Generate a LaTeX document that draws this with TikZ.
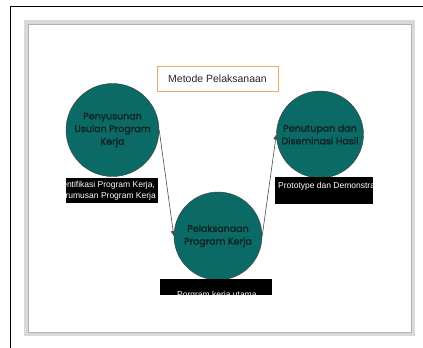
\documentclass[tikz,border=0pt]{standalone}
\usepackage{fontspec}
\setmainfont{Liberation Sans}
\newfontfamily\stagefont[FakeBold=1.6]{Poppins}
\usetikzlibrary{arrows.meta}
\definecolor{stageteal}{HTML}{0B6A65}
\definecolor{stagetext}{HTML}{102221}
\definecolor{titleorange}{HTML}{EDA86B}

\tikzset{
  stage/.style={circle, draw=black!75, fill=stageteal, text=stagetext, align=center,
    inner sep=0pt, font=\stagefont\fontsize{9.5}{12.7}\selectfont},
  tagbox/.style={fill=black, inner sep=0pt},
  tagtext/.style={text=white, align=left, inner sep=0pt, font=\fontsize{8.5}{11.5}\selectfont},
  flow/.style={draw=black!70, line width=0.6pt, -{Triangle[length=5pt,width=4.5pt]}}
}

\begin{document}
\begin{tikzpicture}[x=1pt, y=-1pt]
        \useasboundingbox (0,0) rectangle (423,348);
        % page frame and panel
        \draw[line width=0.8pt] (10,348) -- (10,6) -- (423,6);
        \draw[gray!30, line width=4pt, fill=white] (26,22) rectangle (413,334);
        \draw[gray!60, line width=0.6pt] (28,24) rectangle (411,332);

        \node[draw=titleorange, line width=0.9pt, fill=white, minimum width=121pt, minimum height=25pt,
              text=black!85, font=\fontsize{10.5}{12}\selectfont] (title) at (217.5,78.5) {Metode Pelaksanaan};

        \node[stage, minimum size=93pt] (usulan) at (112.5,130) {Penyusunan\\Usulan Program\\Kerja};
        \node[stage, minimum size=88pt] (pelaksanaan) at (218,236) {Pelaksanaan\\Program Kerja};
        \node[stage, minimum size=87pt] (penutupan) at (320,134.5) {Penutupan dan\\Diseminasi Hasil};

        \node[tagbox, minimum width=92pt, minimum height=25pt] (tagusulan) at (112,190.5) {};
        \node[tagbox, minimum width=98pt, minimum height=27pt] (tagpenutupan) at (324,190.5) {};
        \node[tagbox, minimum width=112pt, minimum height=15.5pt] (tagpelaksanaan) at (216,286.75) {};

        \begin{scope}
          \clip (tagusulan.south west) rectangle (tagusulan.north east);
          \node[tagtext, anchor=west] (txtusulan) at (55,191) {Identifikasi Program Kerja,\\Perumusan Program Kerja};
        \end{scope}
        \begin{scope}
          \clip (tagpenutupan.south west) rectangle (tagpenutupan.north east);
          \node[tagtext, anchor=west] (txtpenutupan) at (278,186) {Prototype dan Demonstrasi};
        \end{scope}
        \begin{scope}
          \clip (tagpelaksanaan.south west) rectangle (tagpelaksanaan.north east);
          \node[tagtext, anchor=base west] (txtpelaksanaan) at (177,297) {Porgram kerja utama};
        \end{scope}

        \draw[flow] (usulan.east) -- (pelaksanaan.west);
        \draw[flow] (pelaksanaan.east) -- (penutupan.west);
    \end{tikzpicture}
\end{document}
